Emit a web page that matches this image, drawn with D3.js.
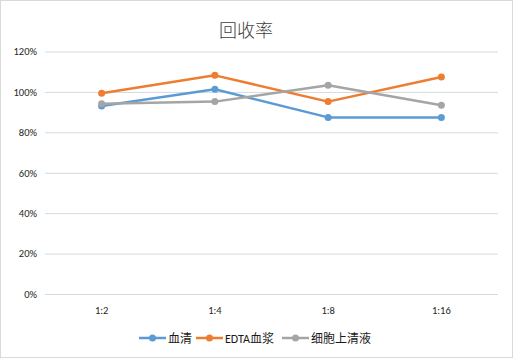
<!DOCTYPE html>
<html><head><meta charset="utf-8">
<script src="https://cdn.jsdelivr.net/npm/d3@7/dist/d3.min.js"></script>
<style>body{margin:0;background:#fff}svg{display:block}</style>
</head><body>
<script>
const categories = ["1:2","1:4","1:8","1:16"];
const seriesNames = ["血清","EDTA血浆","细胞上清液"];
const serum = [93, 101.3, 87.4, 87.4];
const edta = [99.3, 108.2, 95.2, 107.4];
const supernatant = [94.2, 95.2, 103.3, 93.4];
const yTicks = [0,20,40,60,80,100,120];
const colors = ["#5B9BD5","#ED7D31","#A5A5A5"];
const series = [serum, edta, supernatant];

const W=513,H=358;
const svg=d3.select("body").append("svg").attr("width",W).attr("height",H);
svg.append("rect").attr("x",0.5).attr("y",0.5).attr("width",W-1).attr("height",H-1).attr("fill","#fff").attr("stroke","#d9d9d9");
const font="Calibri, 'Liberation Sans', 'Noto Sans CJK SC', sans-serif";
svg.append("text").attr("x",246).attr("y",37).attr("text-anchor","middle").attr("font-family","'Noto Sans CJK SC', sans-serif").attr("font-weight",300).attr("font-size",18).attr("fill","#404040").text("回收率");

const x=d3.scaleBand().domain(categories).range([45,498]);
const y=d3.scaleLinear().domain([0,120]).range([294,51.5]);

const yAxis=d3.axisLeft(y).tickValues(yTicks).tickSize(-(498-45)).tickFormat(d=>d+"%");
const gy=svg.append("g").attr("transform","translate(45,0)").call(yAxis);
gy.select(".domain").remove();
gy.selectAll(".tick line").attr("stroke","#d9d9d9");
gy.selectAll(".tick text").attr("x",-8).attr("font-family",font).attr("font-size",10.5).attr("fill","#262626");

const xAxis=d3.axisBottom(x).tickSize(0);
const gx=svg.append("g").attr("transform","translate(0,294)").call(xAxis);
gx.select(".domain").remove();
gx.selectAll(".tick text").attr("dy",0).attr("y",20).attr("font-family",font).attr("font-size",10.5).attr("fill","#262626");

const line=d3.line().x((d,i)=>x(categories[i])+x.bandwidth()/2).y(d=>y(d));
series.forEach((s,k)=>{
  svg.append("path").datum(s).attr("d",line).attr("fill","none").attr("stroke",colors[k]).attr("stroke-width",2.5).attr("stroke-linejoin","round");
  svg.selectAll(null).data(s).enter().append("circle")
    .attr("cx",(d,i)=>x(categories[i])+x.bandwidth()/2).attr("cy",d=>y(d)).attr("r",3.5).attr("fill",colors[k]);
});

// legend
const legY=338;
const legX=[139,196,282];
seriesNames.forEach((n,k)=>{
  const g=svg.append("g");
  g.append("line").attr("x1",legX[k]).attr("x2",legX[k]+27).attr("y1",legY).attr("y2",legY).attr("stroke",colors[k]).attr("stroke-width",2.5);
  g.append("circle").attr("cx",legX[k]+13.5).attr("cy",legY).attr("r",3.5).attr("fill",colors[k]);
  g.append("text").attr("x",legX[k]+29).attr("y",legY+4.5).attr("font-family",font).attr("font-size",12).attr("fill","#1a1a1a").text(n);
});
</script>
</body></html>
